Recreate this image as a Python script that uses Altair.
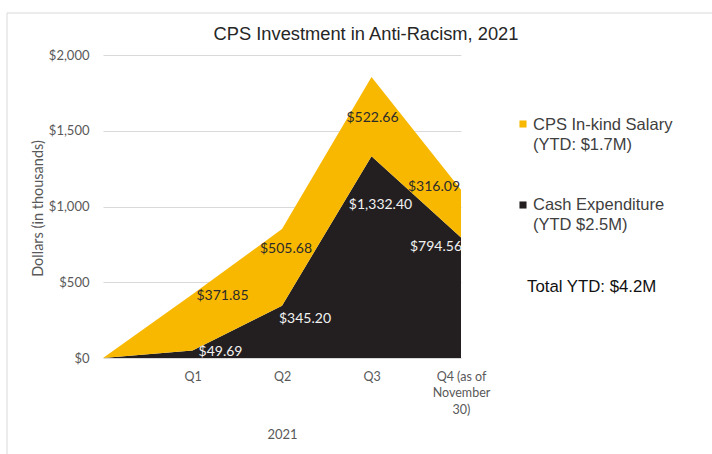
import altair as alt
import pandas as pd

# ---- data ----
quarters = [" ", "Q1", "Q2", "Q3", "Q4 (as of\nNovember\n30)"]
cash = [0, 49.69, 345.20, 1332.40, 794.56]
inkind = [0, 371.85, 505.68, 522.66, 316.09]
series = ["CPS In-kind Salary", "Cash Expenditure"]
ytd = ["(YTD: $1.7M)", "(YTD $2.5M)"]
total_text = "Total YTD: $4.2M"
title_text = "CPS Investment in Anti-Racism, 2021"
x_title = "2021"
y_title = "Dollars (in thousands)"
y_ticks = [0, 500, 1000, 1500, 2000]

colors = ["#F9B800", "#231F20"]
label_colors = ["#2B2B2B", "#F2F2F2"]

rows = []
for i, q in enumerate(quarters):
    rows.append({"quarter": q, "series": series[1], "value": cash[i],
                 "top": cash[i], "order": 1, "idx": i, "s": 1})
    rows.append({"quarter": q, "series": series[0], "value": inkind[i],
                 "top": cash[i] + inkind[i], "order": 2, "idx": i, "s": 0})
df = pd.DataFrame(rows)

W, H = 358, 303
AXIS_FONT = "Lato"
TEXT_FONT = "Liberation Sans"

x_enc = alt.X(
    "quarter:N",
    sort=quarters,
    scale=alt.Scale(type="point", padding=0, domain=quarters),
    axis=alt.Axis(
        title=x_title,
        labelExpr="split(datum.label, '\\n')",
        labelAngle=0,
        labelFont=AXIS_FONT,
        labelFontSize=12.5,
        labelColor="#595959",
        labelPadding=12,
        labelLineHeight=16.5,
        labelBaseline="top",
        labelFlush=False,
        labelOverlap=False,
        ticks=False,
        domain=False,
        grid=False,
        titleFont=AXIS_FONT,
        titleFontSize=13,
        titleFontWeight="normal",
        titleColor="#595959",
        titleY=76,
        titleBaseline="middle",
    ),
)

y_axis = alt.Axis(
    title=y_title,
    values=y_ticks,
    format="$,.0f",
    labelFont=AXIS_FONT,
    labelFontSize=13,
    labelColor="#595959",
    labelPadding=14,
    ticks=False,
    domain=False,
    grid=True,
    gridColor="#D9D9D9",
    gridWidth=1,
    titleFont=AXIS_FONT,
    titleFontSize=14.5,
    titleFontWeight="normal",
    titleColor="#595959",
    titleAngle=270,
    titleX=-65,
    titleY=153,
    titleAlign="center",
    titleBaseline="middle",
)
y_scale = alt.Scale(domain=[0, 2000], nice=False)

base = alt.Chart(df)

area = base.mark_area(opacity=1, interpolate="linear").encode(
    x=x_enc,
    y=alt.Y("value:Q", stack="zero", scale=y_scale, axis=y_axis),
    color=alt.Color("series:N", scale=alt.Scale(domain=series, range=colors), legend=None),
    order=alt.Order("order:Q", sort="ascending"),
)

# label placement per (quarter, series): (dx, dy) in pixels
label_style = {
    (1, 0): (30, 2), (1, 1): (28, 2),
    (2, 0): (4, 20), (2, 1): (23, 13),
    (3, 0): (1, 41), (3, 1): (9, 49),
    (4, 0): (-27, -3), (4, 1): (-25, 9),
}
label_layers = []
for (qi, si), (dx, dy) in label_style.items():
    label_layers.append(
        base.transform_filter((alt.datum.idx == qi) & (alt.datum.s == si))
        .mark_text(align="center", dx=dx, dy=dy, baseline="middle", font=AXIS_FONT,
                   fontSize=14, color=label_colors[si])
        .encode(
            x=x_enc,
            y=alt.Y("top:Q", scale=y_scale, axis=y_axis),
            text=alt.Text("value:Q", format="$,.2f"),
        )
    )


def one():
    return alt.Chart(alt.Data(values=[{"k": 1}]))


title = one().mark_text(font=TEXT_FONT, fontSize=18.3, color="#262626",
                        align="center", baseline="middle").encode(
    x=alt.value(263), y=alt.value(-20), text=alt.value(title_text))

sq1 = one().mark_square(size=50, color=colors[0], opacity=1).encode(
    x=alt.value(420), y=alt.value(69))
sq2 = one().mark_square(size=50, color=colors[1], opacity=1).encode(
    x=alt.value(420), y=alt.value(150))
leg1 = one().mark_text(font=TEXT_FONT, fontSize=16.5, color="#404040", align="left",
                       baseline="alphabetic", lineHeight=20).encode(
    x=alt.value(430), y=alt.value(75), text=alt.value([series[0], ytd[0]]))
leg2 = one().mark_text(font=TEXT_FONT, fontSize=16.5, color="#404040", align="left",
                       baseline="alphabetic", lineHeight=20).encode(
    x=alt.value(430), y=alt.value(155), text=alt.value([series[1], ytd[1]]))
tot = one().mark_text(font=TEXT_FONT, fontSize=16.8, color="#111111", align="left",
                      baseline="alphabetic").encode(
    x=alt.value(424), y=alt.value(237), text=alt.value(total_text))

border_left = one().mark_rule(color="#D9D9D9", strokeWidth=1).encode(
    x=alt.value(-96), y=alt.value(-42), y2=alt.value(420))
border_top = one().mark_rule(color="#D9D9D9", strokeWidth=1).encode(
    x=alt.value(-96), x2=alt.value(640), y=alt.value(-42))

chart = alt.layer(
    border_left, border_top, area, *label_layers, title, sq1, sq2, leg1, leg2, tot
).properties(
    width=W,
    height=H,
    autosize=alt.AutoSizeParams(type="none"),
    padding={"left": 103, "top": 55, "right": 251, "bottom": 96},
    background="white",
).configure_view(stroke=None)

chart.save("out.html", embed_options={"renderer": "svg", "actions": False})
